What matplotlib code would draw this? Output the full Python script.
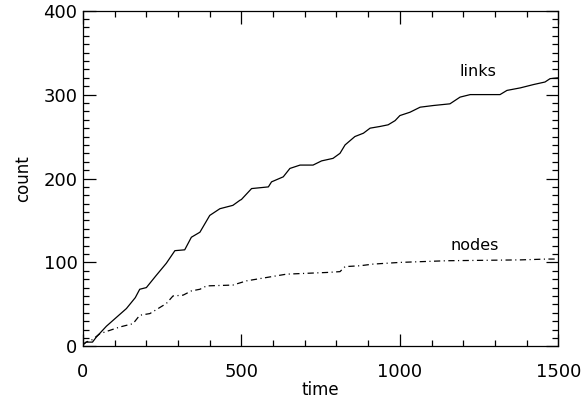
import matplotlib.pyplot as plt
from matplotlib.ticker import MultipleLocator

plt.rcParams['font.family'] = 'DejaVu Sans'
plt.rcParams['lines.scale_dashes'] = False

# links (solid curve)
links_t = [0, 10, 30, 42, 74, 110, 137, 165, 179, 200, 230, 263, 290, 321, 342, 369,
           400, 432, 473, 495, 500, 532, 585, 595, 632, 653, 685, 726, 753, 789, 811,
           827, 858, 885, 906, 937, 963, 985, 1000, 1032, 1064, 1106, 1158, 1190,
           1222, 1316, 1338, 1380, 1422, 1458, 1474, 1500]
links_c = [2, 5, 5, 11, 24, 36, 45, 58, 68, 70, 84, 99, 114, 115, 130, 136,
           156, 164, 168, 174, 175, 188, 190, 196, 202, 212, 216, 216, 221, 224, 230,
           240, 250, 254, 260, 262, 264, 269, 275, 279, 285, 287, 289, 297,
           300, 300, 305, 308, 312, 315, 319, 320]

# nodes (dash-dot curve)
nodes_t = [0, 10, 30, 53, 116, 158, 179, 211, 263, 284, 316, 342, 369, 390, 473,
           516, 579, 642, 769, 811, 827, 874, 916, 1000, 1148, 1380, 1464, 1500]
nodes_c = [2, 5, 8, 15, 23, 27, 37, 39, 51, 60, 61, 66, 68, 72, 73,
           78, 82, 86, 88, 89, 95, 96, 98, 100, 102, 103, 104, 104]

fig = plt.figure(figsize=(5.82, 4.05), dpi=100)
ax = fig.add_axes([0.1426, 0.1449, 0.8167, 0.8287])

ax.plot(links_t, links_c, color='black', lw=0.9)
ax.plot(nodes_t, nodes_c, color='black', lw=0.9, dashes=(4.5, 2.5, 0.8, 2.5))

ax.text(1245, 327, 'links', fontsize=11.5, ha='center', va='center')
ax.text(1235, 120, 'nodes', fontsize=11.5, ha='center', va='center')

ax.set_xlim(0, 1500)
ax.set_ylim(0, 400)
ax.xaxis.set_major_locator(MultipleLocator(500))
ax.xaxis.set_minor_locator(MultipleLocator(100))
ax.yaxis.set_major_locator(MultipleLocator(100))
ax.yaxis.set_minor_locator(MultipleLocator(10))
ax.tick_params(which='both', direction='in', top=True, right=True, labelsize=13, width=0.9)
ax.tick_params(which='major', length=9)
ax.tick_params(which='minor', length=4.5)
ax.tick_params(axis='x', pad=12)
ax.tick_params(axis='y', pad=4)
for s in ax.spines.values():
    s.set_linewidth(0.9)

ax.set_xlabel('time', fontsize=12, labelpad=0)
ax.set_ylabel('count', fontsize=12, labelpad=8)

plt.savefig('out.png', dpi=100)
